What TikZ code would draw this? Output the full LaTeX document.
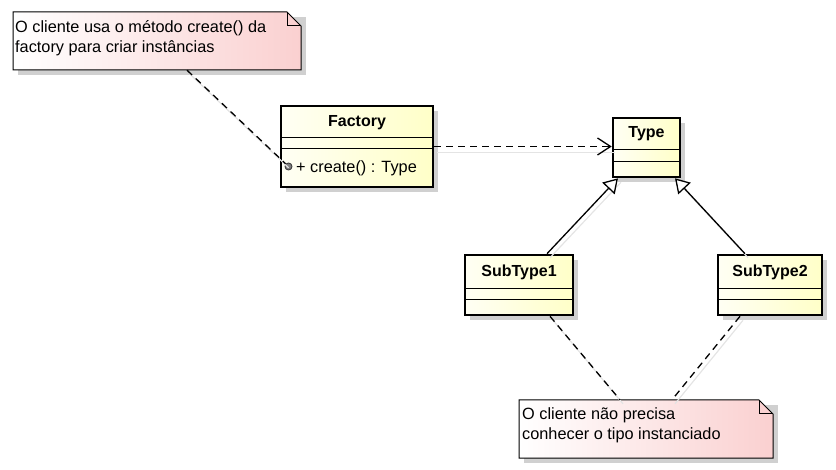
\documentclass[tikz,border=0pt]{standalone}
\usepackage{fontspec}
\setmainfont{Liberation Sans}
\usetikzlibrary{arrows.meta,shadows}
\definecolor{cream}{RGB}{255,255,200}
\definecolor{pinkn}{RGB}{250,208,208}
\definecolor{shad}{RGB}{208,208,208}
\definecolor{lshad}{RGB}{228,228,228}
\begin{document}
\begin{tikzpicture}[x=1pt,y=-1pt,
  font=\fontsize{16.3pt}{20pt}\selectfont,
  umlclass/.style={draw=black, line width=2.6pt, left color=cream!20!white, right color=cream,
    inner sep=0pt, drop shadow={shadow xshift=5pt, shadow yshift=-5pt, fill=shad, opacity=1}},
  comp/.style={draw=black, line width=1pt},
  title/.style={font=\fontsize{16pt}{20pt}\selectfont\bfseries, inner sep=0pt},
  txt/.style={inner sep=0pt, align=left},
  notebox/.style={draw=black, line width=1pt, left color=white, right color=pinkn},
  noteshadow/.style={fill=shad},
  dashline/.style={draw=black, line width=1.3pt, dash pattern=on 7pt off 5pt},
  lineshadow/.style={draw=lshad, line width=1.2pt, transform canvas={xshift=3pt,yshift=-4pt}},
  depend/.style={-{Straight Barb[length=13pt,width=17pt,line width=1.3pt]}},
  general/.style={draw=black, line width=1.3pt, -{Triangle[open,length=14pt,width=17pt,line width=1.3pt,fill=white]}}
]
\useasboundingbox (0,0) rectangle (836,470);

% ---------- Note 1 ----------
\fill[noteshadow] (18,17) rectangle (306,75);
\path[notebox] (13,12) -- (287,12) -- (301,26) -- (301,70) -- (13,70) -- cycle;
\draw[line width=1pt] (287,12) -- (287,26) -- (301,26);
\node[inner sep=0pt, minimum width=288pt, minimum height=58pt] (N1) at (157,41) {};
\node[txt, anchor=west] (N1t) at (15,38) {O cliente usa o método create() da\\factory para criar instâncias};

% ---------- Note 2 ----------
\fill[noteshadow] (524,405) rectangle (778,463);
\path[notebox] (519,400) -- (759,400) -- (773,414) -- (773,458) -- (519,458) -- cycle;
\draw[line width=1pt] (759,400) -- (759,414) -- (773,414);
\node[inner sep=0pt, minimum width=254pt, minimum height=58pt] (N2) at (646,429) {};
\node[txt, anchor=west] (N2t) at (522,425) {O cliente não precisa\\conhecer o tipo instanciado};

% ---------- Classes ----------
\node[umlclass, minimum width=152pt, minimum height=81pt] (F) at (357,146.5) {};
\draw[comp] (281,138) -- (433,138);
\draw[comp] (281,149) -- (433,149);
\node[title] (Ft) at (357,123) {Factory};
\node[txt, anchor=west] (Fop) at (296,168) {+ create() : Type};
\node[circle, draw=black!75, fill=black!50, line width=0.9pt, inner sep=0pt, minimum size=7pt] (op) at (288.5,166.5) {};

\node[umlclass, minimum width=67pt, minimum height=59pt] (T) at (646.5,147.5) {};
\draw[comp] (613,150) -- (680,150);
\draw[comp] (613,162) -- (680,162);
\node[title] (Tt) at (646.5,134) {Type};

\node[umlclass, minimum width=108pt, minimum height=60pt] (S1) at (519,285) {};
\draw[comp] (465,289) -- (573,289);
\draw[comp] (465,300) -- (573,300);
\node[title] (S1t) at (519,272) {SubType1};

\node[umlclass, minimum width=104pt, minimum height=60pt] (S2) at (770,285) {};
\draw[comp] (718,289) -- (822,289);
\draw[comp] (718,300) -- (822,300);
\node[title] (S2t) at (770,272) {SubType2};

% ---------- Connector shadows ----------
\draw[lineshadow] ([yshift=-2pt]F.east) -- ([yshift=-2pt]F.east -| T.west);
\draw[lineshadow] ([xshift=28pt]S1.north) -- ([xshift=-28.5pt]T.south);
\draw[lineshadow] ([xshift=-25pt]S2.north) -- ([xshift=28.5pt]T.south);
\draw[lineshadow] ([xshift=31pt]S1.south) -- ([xshift=-26pt]N2.north);
\draw[lineshadow] ([xshift=-30pt]S2.south) -- ([xshift=26pt]N2.north);
\draw[lineshadow] ([xshift=30pt]N1.south) -- (op);

% ---------- Connectors ----------
\draw[dashline, depend] (F.east) -- (F.east -| T.west);
\draw[general] ([xshift=28pt]S1.north) -- ([xshift=-28.5pt]T.south);
\draw[general] ([xshift=-25pt]S2.north) -- ([xshift=28.5pt]T.south);
\draw[dashline] ([xshift=30pt]N1.south) -- (op);
\draw[dashline] ([xshift=31pt]S1.south) -- ([xshift=-26pt]N2.north);
\draw[dashline] ([xshift=-30pt]S2.south) -- ([xshift=26pt]N2.north);
\end{tikzpicture}
\end{document}
